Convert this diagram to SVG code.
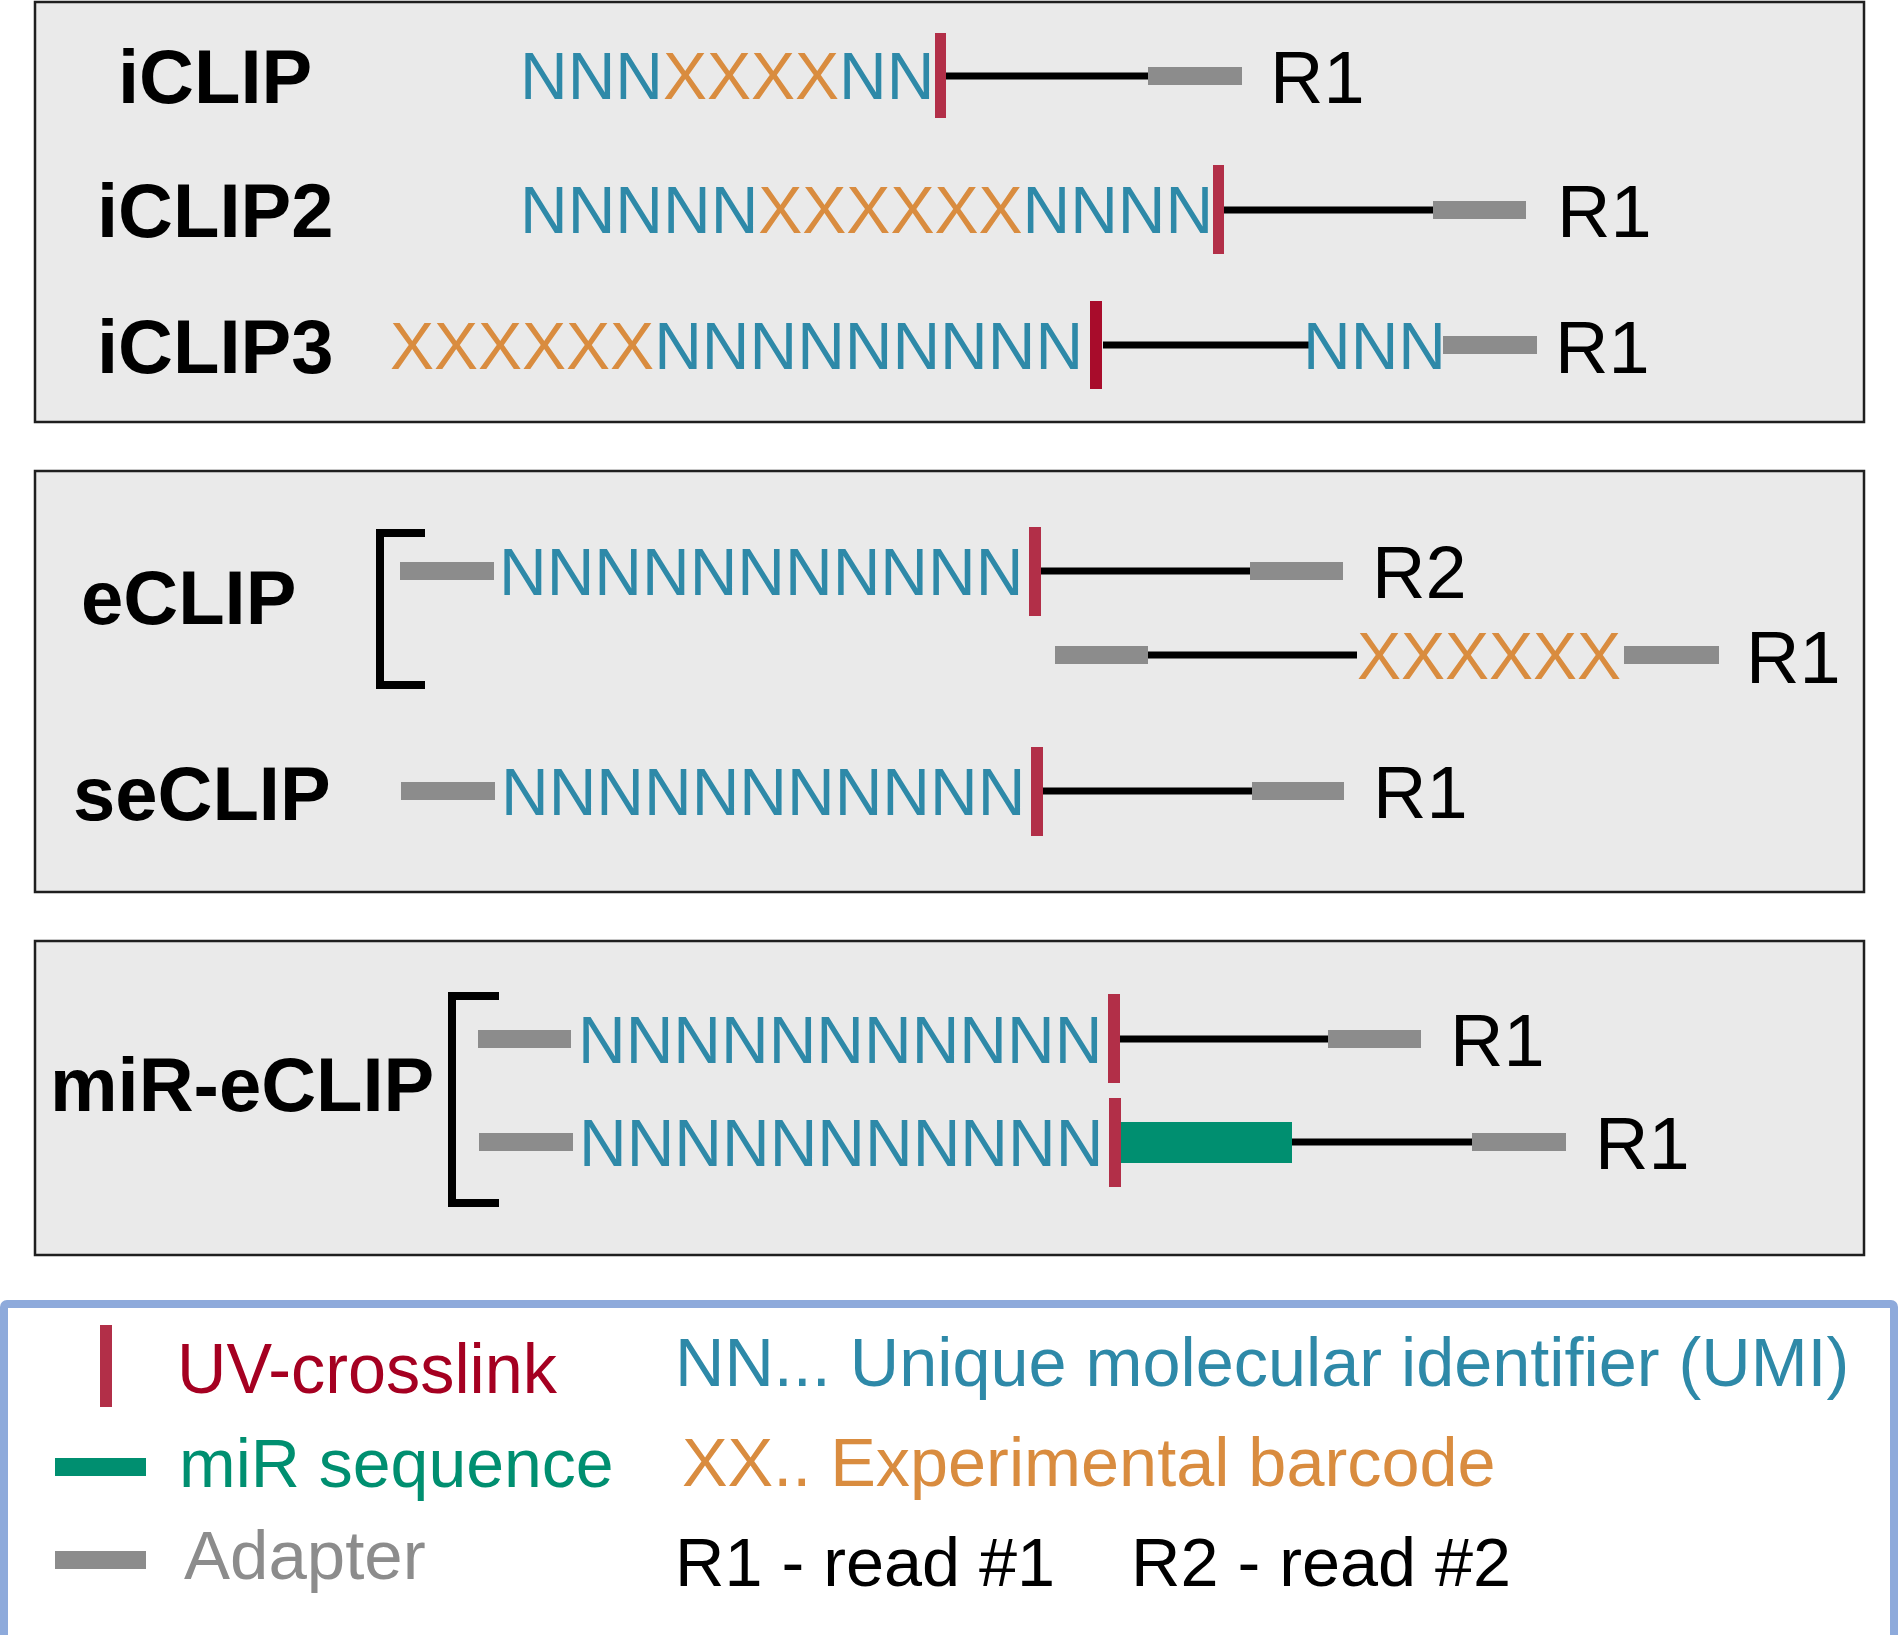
<svg xmlns="http://www.w3.org/2000/svg" width="1899" height="1635" viewBox="0 0 1899 1635">
<style>
text{font-family:"Liberation Sans",Arial,Helvetica,sans-serif}
.bg{fill:#ffffff}
.panel{fill:#EAEAEA;stroke:#1f1f1f;stroke-width:2.5}
.lbl{font-weight:bold;font-size:76px;fill:#000}
.r{font-size:74px;fill:#000}
.seq{font-size:66px}
.n{fill:#2E89A8}
.x{fill:#D98C3F}
.uv{fill:#B22F48}
.uv2{fill:#A80C2B}
.ad{fill:#8C8C8C}
.mir{fill:#008F70}
.ln{stroke:#000;stroke-width:7;fill:none}
.br{stroke:#000;stroke-width:8;fill:none}
.leg{font-size:68.4px}
</style>
<rect class="bg" x="0" y="0" width="1899" height="1635"/>

<g id="panel-iclip">
<rect class="panel" x="35" y="2" width="1829" height="420"/>
</g>
<g id="panel-eclip">
<rect class="panel" x="35" y="471" width="1829" height="421"/>
</g>
<g id="panel-mireclip">
<rect class="panel" x="35" y="941" width="1829" height="314"/>
</g>

<g id="connectors">
<line class="ln" x1="945" y1="76" x2="1150" y2="76"/>
<line class="ln" x1="1223" y1="210" x2="1435" y2="210"/>
<line class="ln" x1="1103" y1="345" x2="1310" y2="345"/>
<line class="ln" x1="1041" y1="571" x2="1252" y2="571"/>
<line class="ln" x1="1146" y1="655" x2="1357" y2="655"/>
<line class="ln" x1="1043" y1="791" x2="1254" y2="791"/>
<line class="ln" x1="1120" y1="1039" x2="1330" y2="1039"/>
<line class="ln" x1="1290" y1="1142" x2="1474" y2="1142"/>
</g>

<g id="row-iclip">
<text class="lbl" x="118" y="103">iCLIP</text>
<text class="seq" x="520" y="99"><tspan class="n">NNN</tspan><tspan class="x">XXXX</tspan><tspan class="n">NN</tspan></text>
<rect class="uv" x="935" y="33" width="11" height="85"/>
<rect class="ad" x="1148" y="67" width="94" height="18"/>
<text class="r" x="1270" y="103">R1</text>
</g>

<g id="row-iclip2">
<text class="lbl" x="97" y="237">iCLIP2</text>
<text class="seq" x="520" y="233"><tspan class="n">NNNNN</tspan><tspan class="x">XXXXXX</tspan><tspan class="n">NNNN</tspan></text>
<rect class="uv" x="1213" y="165" width="11" height="89"/>
<rect class="ad" x="1433" y="201" width="93" height="18"/>
<text class="r" x="1557" y="237">R1</text>
</g>

<g id="row-iclip3">
<text class="lbl" x="97" y="373">iCLIP3</text>
<text class="seq" x="390" y="369"><tspan class="x">XXXXXX</tspan><tspan class="n">NNNNNNNNN</tspan></text>
<rect class="uv2" x="1090" y="301" width="12" height="88"/>
<text class="seq n" x="1303" y="369">NNN</text>
<rect class="ad" x="1443" y="336" width="94" height="18"/>
<text class="r" x="1555" y="373">R1</text>
</g>

<g id="row-eclip">
<text class="lbl" x="81" y="624">eCLIP</text>
<path class="br" d="M425,533 H380 V685 H425"/>
<rect class="ad" x="400" y="562" width="94" height="18"/>
<text class="seq n" x="499" y="595">NNNNNNNNNNN</text>
<rect class="uv" x="1029" y="527" width="12" height="89"/>
<rect class="ad" x="1250" y="562" width="93" height="18"/>
<text class="r" x="1372" y="598">R2</text>
<rect class="ad" x="1055" y="646" width="93" height="18"/>
<text class="seq x" x="1357" y="679">XXXXXX</text>
<rect class="ad" x="1624" y="646" width="95" height="18"/>
<text class="r" x="1746" y="683">R1</text>
</g>

<g id="row-seclip">
<text class="lbl" x="73" y="820">seCLIP</text>
<rect class="ad" x="401" y="782" width="94" height="18"/>
<text class="seq n" x="501" y="815">NNNNNNNNNNN</text>
<rect class="uv" x="1031" y="747" width="12" height="89"/>
<rect class="ad" x="1252" y="782" width="92" height="18"/>
<text class="r" x="1373" y="818">R1</text>
</g>

<g id="row-mireclip">
<text class="lbl" x="50" y="1111">miR-eCLIP</text>
<path class="br" d="M499,996 H452 V1203 H499"/>
<rect class="ad" x="478" y="1030" width="93" height="18"/>
<text class="seq n" x="578" y="1063">NNNNNNNNNNN</text>
<rect class="uv" x="1108" y="994" width="12" height="89"/>
<rect class="ad" x="1328" y="1030" width="93" height="18"/>
<text class="r" x="1450" y="1066">R1</text>
<rect class="ad" x="479" y="1133" width="94" height="18"/>
<text class="seq n" x="579" y="1166">NNNNNNNNNNN</text>
<rect class="uv" x="1109" y="1098" width="12" height="89"/>
<rect class="mir" x="1121" y="1122" width="171" height="41"/>
<rect class="ad" x="1472" y="1133" width="94" height="18"/>
<text class="r" x="1595" y="1169">R1</text>
</g>

<g id="legend">
<rect x="4" y="1304" width="1890" height="1326" rx="3" fill="#ffffff" stroke="#8EAADB" stroke-width="8"/>
<rect class="uv" x="100" y="1325" width="12" height="82"/>
<text x="177" y="1393" font-size="70" fill="#A50021" textLength="380" lengthAdjust="spacingAndGlyphs">UV-crosslink</text>
<rect class="mir" x="55" y="1458" width="91" height="18"/>
<text x="179" y="1487" font-size="68" fill="#008F70">miR sequence</text>
<rect class="ad" x="55" y="1551" width="91" height="18"/>
<text x="184" y="1579" font-size="69" fill="#8C8C8C">Adapter</text>
<text class="leg n" x="675" y="1386">NN... Unique molecular identifier (UMI)</text>
<text class="leg x" x="682" y="1486">XX.. Experimental barcode</text>
<text class="leg" x="675" y="1586" fill="#000">R1 - read #1</text>
<text class="leg" x="1131" y="1586" fill="#000">R2 - read #2</text>
</g>
</svg>
